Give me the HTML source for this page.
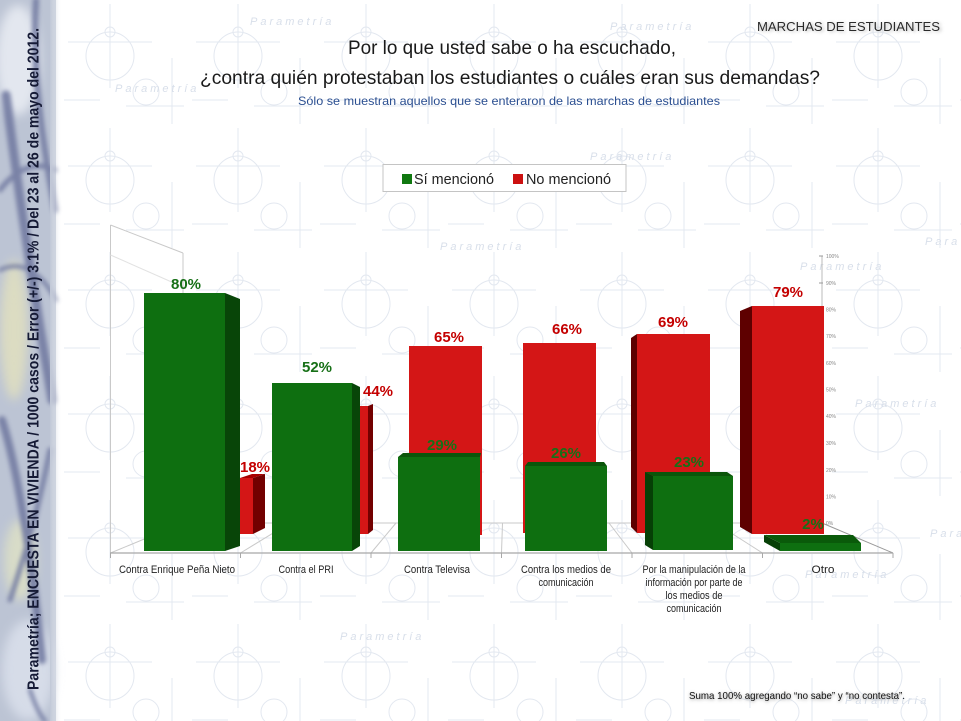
<!DOCTYPE html>
<html><head><meta charset="utf-8">
<style>
html,body{margin:0;padding:0;background:#fff;}
svg{display:block;}
text{font-family:"Liberation Sans",sans-serif;}
</style></head><body>
<svg width="961" height="721" viewBox="0 0 961 721" xmlns="http://www.w3.org/2000/svg">
<defs>
<pattern id="wm" x="60" y="0" width="128" height="124" patternUnits="userSpaceOnUse">
  <g stroke="#e3e8f0" stroke-width="1" fill="none">
    <line x1="8" y1="42" x2="92" y2="42"/>
    <line x1="50" y1="4" x2="50" y2="88"/>
    <circle cx="50" cy="56" r="24"/>
    <circle cx="50" cy="32" r="5"/>
    <circle cx="86" cy="92" r="13"/>
    <line x1="66" y1="106" x2="124" y2="106"/>
    <line x1="112" y1="58" x2="112" y2="124"/>
    <line x1="4" y1="100" x2="40" y2="100"/>
  </g>
</pattern>
<linearGradient id="fadeR" x1="0" x2="1" y1="0" y2="0">
  <stop offset="0" stop-color="#c0c7d6" stop-opacity="1"/>
  <stop offset="1" stop-color="#ffffff" stop-opacity="0"/>
</linearGradient>
<filter id="blur2" x="-20%" y="-20%" width="140%" height="140%"><feGaussianBlur stdDeviation="2"/></filter>
<filter id="blur4" x="-50%" y="-50%" width="200%" height="200%"><feGaussianBlur stdDeviation="5"/></filter>
<filter id="sh" x="-10%" y="-50%" width="120%" height="200%"><feGaussianBlur stdDeviation="1.5"/></filter>
</defs>

<rect width="961" height="721" fill="#fff"/>
<rect width="961" height="721" fill="url(#wm)"/>

<g font-style="italic" font-size="11" fill="#d8dfea" letter-spacing="3" font-family="Liberation Serif, serif">
  <text x="115" y="92">Parametría</text>
  <text x="590" y="160">Parametría</text>
  <text x="440" y="250">Parametría</text>
  <text x="800" y="270">Parametría</text>
  <text x="925" y="245">Para</text>
  <text x="855" y="407">Parametría</text>
  <text x="150" y="455">Parametría</text>
  <text x="930" y="537">Para</text>
  <text x="805" y="578">Parametría</text>
  <text x="340" y="640">Parametría</text>
  <text x="845" y="704">Parametría</text>
  <text x="610" y="30">Parametría</text>
  <text x="250" y="25">Parametría</text>
</g>

<g>
  <rect x="0" y="0" width="56" height="721" fill="#bcc4d4"/>
  <g filter="url(#blur4)">
    <ellipse cx="18" cy="60" rx="22" ry="55" fill="#e3e7ef"/>
    <ellipse cx="14" cy="330" rx="14" ry="70" fill="#dcdcc2"/>
    <ellipse cx="20" cy="560" rx="16" ry="40" fill="#d8dcc8"/>
    <ellipse cx="28" cy="670" rx="26" ry="50" fill="#d6dce8"/>
  </g>
  <g filter="url(#blur2)" stroke="#737ba2" fill="none" stroke-linecap="round" opacity="0.9">
    <path d="M6 95 C 18 190, 32 280, 52 400" stroke-width="9"/>
    <path d="M36 0 C 32 70, 42 140, 55 210" stroke-width="6"/>
    <path d="M0 190 C 15 170, 35 160, 55 170" stroke-width="5"/>
    <path d="M2 420 C 18 470, 32 560, 42 660" stroke-width="8"/>
    <path d="M50 450 C 40 500, 30 540, 10 600" stroke-width="5"/>
    <path d="M0 270 C 20 260, 40 270, 56 300" stroke-width="4"/>
    <path d="M30 690 C 35 705, 40 715, 45 721" stroke-width="4"/>
  </g>
  <rect x="50" y="0" width="12" height="721" fill="url(#fadeR)"/>
</g>

<text transform="translate(38.5,690) rotate(-90)" font-weight="bold" font-size="15.5" fill="#151a35" textLength="662" lengthAdjust="spacingAndGlyphs">Parametría; ENCUESTA EN VIVIENDA / 1000 casos / Error (+/-) 3.1% / Del 23 al 26 de mayo del 2012.</text>

<text x="759" y="32" font-size="13" fill="#bbb" textLength="183" lengthAdjust="spacingAndGlyphs" filter="url(#sh)">MARCHAS DE ESTUDIANTES</text>
<text x="757" y="31" font-size="13" fill="#2a2a2a" textLength="183" lengthAdjust="spacingAndGlyphs">MARCHAS DE ESTUDIANTES</text>

<text x="348" y="54" font-size="19.5" fill="#1a1a1a" textLength="328" lengthAdjust="spacingAndGlyphs">Por lo que usted sabe o ha escuchado,</text>
<text x="200" y="84" font-size="19.5" fill="#1a1a1a" textLength="620" lengthAdjust="spacingAndGlyphs">¿contra quién protestaban los estudiantes o cuáles eran sus demandas?</text>
<text x="298" y="105" font-size="12" fill="#2b4f91" textLength="422" lengthAdjust="spacingAndGlyphs">Sólo se muestran aquellos que se enteraron de las marchas de estudiantes</text>

<rect x="383" y="164.5" width="243" height="27" fill="#fff" stroke="#c4c4c4" stroke-width="1"/>
<rect x="402" y="174" width="10" height="10" fill="#107810"/>
<text x="414" y="184" font-size="14.5" fill="#222" textLength="80" lengthAdjust="spacingAndGlyphs">Sí mencionó</text>
<rect x="513" y="174" width="10" height="10" fill="#cc1111"/>
<text x="526" y="184" font-size="14.5" fill="#222" textLength="85" lengthAdjust="spacingAndGlyphs">No mencionó</text>

<g stroke="#c9c9c9" stroke-width="1" fill="none">
  <line x1="110.5" y1="225" x2="110.5" y2="553"/>
  <line x1="110.5" y1="225" x2="183" y2="253"/>
  <line x1="183" y1="253" x2="183" y2="523"/>
  <line x1="110.5" y1="553" x2="183" y2="523"/>
  <line x1="183" y1="523" x2="822" y2="523"/>
  <line x1="240.5" y1="553" x2="289.5" y2="523"/>
  <line x1="371" y1="553" x2="396" y2="523"/>
  <line x1="501.5" y1="553" x2="502.5" y2="523"/>
  <line x1="632" y1="553" x2="609" y2="523"/>
  <line x1="762.5" y1="553" x2="715.5" y2="523"/>
  <line x1="110.5" y1="255" x2="183" y2="287" stroke="#e2e2e2"/>
</g>
<line x1="822" y1="256" x2="822" y2="523" stroke="#bbb" stroke-width="1"/>
<line x1="822" y1="523" x2="893" y2="553" stroke="#999" stroke-width="1"/>
<line x1="110" y1="553" x2="893" y2="553" stroke="#a8a8a8" stroke-width="1.2"/>
<g stroke="#a8a8a8" stroke-width="1">
  <line x1="110.5" y1="553" x2="110.5" y2="558"/>
  <line x1="240.5" y1="553" x2="240.5" y2="558"/>
  <line x1="371" y1="553" x2="371" y2="558"/>
  <line x1="501.5" y1="553" x2="501.5" y2="558"/>
  <line x1="632" y1="553" x2="632" y2="558"/>
  <line x1="762.5" y1="553" x2="762.5" y2="558"/>
  <line x1="893" y1="553" x2="893" y2="558"/>
</g>

<g stroke="#999" stroke-width="1">
  <line x1="819" y1="256" x2="823" y2="256"/>
  <line x1="819" y1="283" x2="823" y2="283"/>
  <line x1="819" y1="309.5" x2="823" y2="309.5"/>
  <line x1="819" y1="336" x2="823" y2="336"/>
  <line x1="819" y1="363" x2="823" y2="363"/>
  <line x1="819" y1="389.5" x2="823" y2="389.5"/>
  <line x1="819" y1="416" x2="823" y2="416"/>
  <line x1="819" y1="443" x2="823" y2="443"/>
  <line x1="819" y1="470" x2="823" y2="470"/>
  <line x1="819" y1="496.5" x2="823" y2="496.5"/>
  <line x1="819" y1="523" x2="823" y2="523"/>
</g>
<g font-size="5" fill="#888">
  <text x="826" y="258">100%</text>
  <text x="826" y="285">90%</text>
  <text x="826" y="311.5">80%</text>
  <text x="826" y="338">70%</text>
  <text x="826" y="365">60%</text>
  <text x="826" y="391.5">50%</text>
  <text x="826" y="418">40%</text>
  <text x="826" y="445">30%</text>
  <text x="826" y="472">20%</text>
  <text x="826" y="498.5">10%</text>
  <text x="826" y="525">0%</text>
</g>

<g>
  <polygon points="240,478 253,478 265,474 252,474" fill="#a80000"/>
  <rect x="240" y="478" width="13" height="56" fill="#d41616"/>
  <polygon points="253,478 265,474 265,528 253,534" fill="#720000"/>
  <rect x="360" y="406" width="8" height="128" fill="#d41616"/>
  <polygon points="368,406 373,404 373,530 368,534" fill="#720000"/>
  <rect x="409" y="346" width="73" height="189" fill="#d41616"/>
  <rect x="523" y="343" width="73" height="190" fill="#d41616"/>
  <polygon points="631,338 637,334 637,533 631,527" fill="#5e0000"/>
  <rect x="637" y="334" width="73" height="199" fill="#d41616"/>
  <polygon points="740,311 752,306 752,534 740,527" fill="#5e0000"/>
  <rect x="752" y="306" width="72" height="228" fill="#d41616"/>
</g>

<g>
  <rect x="144" y="293" width="81" height="258" fill="#0e6f10"/>
  <polygon points="225,293 240,299 240,546 225,551" fill="#084508"/>
  <rect x="272" y="383" width="80" height="168" fill="#0e6f10"/>
  <polygon points="352,383 360,387 360,546 352,551" fill="#084508"/>
  <polygon points="398,457 403,453 481,453 480,457" fill="#0a550a"/>
  <rect x="398" y="457" width="82" height="94" fill="#0e6f10"/>
  <polygon points="525,466 528,462 604,462 607,466" fill="#0a550a"/>
  <rect x="525" y="466" width="82" height="85" fill="#0e6f10"/>
  <polygon points="645,472 727,472 733,476 653,476" fill="#0a550a"/>
  <polygon points="645,472 653,476 653,550 645,545" fill="#064006"/>
  <rect x="653" y="476" width="80" height="74" fill="#0e6f10"/>
  <polygon points="764,535 853,535 861,543 780,543" fill="#0a5a0a"/>
  <polygon points="764,535 780,543 780,551 764,542" fill="#064006"/>
  <rect x="780" y="543" width="81" height="8" fill="#0e6f10"/>
</g>

<g font-weight="bold" font-size="15" text-anchor="middle">
  <text x="186" y="289" fill="#177017">80%</text>
  <text x="317" y="372" fill="#177017">52%</text>
  <text x="378" y="396" fill="#c40000">44%</text>
  <text x="255" y="472" fill="#c40000">18%</text>
  <text x="449" y="342" fill="#c40000">65%</text>
  <text x="442" y="450" fill="#177017">29%</text>
  <text x="567" y="334" fill="#c40000">66%</text>
  <text x="566" y="458" fill="#177017">26%</text>
  <text x="673" y="327" fill="#c40000">69%</text>
  <text x="689" y="467" fill="#177017">23%</text>
  <text x="788" y="297" fill="#c40000">79%</text>
  <text x="813" y="529" fill="#177017">2%</text>
</g>

<g font-size="11" fill="#222" text-anchor="middle">
  <text x="177" y="573" textLength="116" lengthAdjust="spacingAndGlyphs">Contra Enrique Peña Nieto</text>
  <text x="306" y="573" textLength="55" lengthAdjust="spacingAndGlyphs">Contra el PRI</text>
  <text x="437" y="573" textLength="66" lengthAdjust="spacingAndGlyphs">Contra Televisa</text>
  <text x="566" y="573" textLength="90" lengthAdjust="spacingAndGlyphs">Contra los medios de</text>
  <text x="566" y="586" textLength="55" lengthAdjust="spacingAndGlyphs">comunicación</text>
  <text x="694" y="573" textLength="103" lengthAdjust="spacingAndGlyphs">Por la manipulación de la</text>
  <text x="694" y="586" textLength="97" lengthAdjust="spacingAndGlyphs">información por parte de</text>
  <text x="694" y="599" textLength="57" lengthAdjust="spacingAndGlyphs">los medios de</text>
  <text x="694" y="612" textLength="55" lengthAdjust="spacingAndGlyphs">comunicación</text>
  <text x="823" y="573" textLength="23" lengthAdjust="spacingAndGlyphs">Otro</text>
</g>

<text x="689" y="700" font-size="10.5" fill="#999" textLength="216" lengthAdjust="spacingAndGlyphs" filter="url(#sh)">Suma 100%  agregando “no sabe” y “no contesta”.</text>
<text x="689" y="699" font-size="10.5" fill="#111" textLength="216" lengthAdjust="spacingAndGlyphs">Suma 100%  agregando “no sabe” y “no contesta”.</text>
</svg>
</body></html>
